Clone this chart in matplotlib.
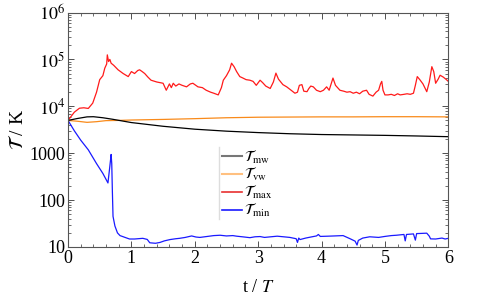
import matplotlib
matplotlib.use("Agg")
import matplotlib.pyplot as plt
from matplotlib.lines import Line2D
from matplotlib.ticker import MultipleLocator, LogLocator, NullFormatter, FixedLocator

plt.rcParams['font.family'] = ['Liberation Serif', 'DejaVu Serif']
plt.rcParams['mathtext.fontset'] = 'stix'

# ---- data ----
t_max = [0, 0.1, 0.18, 0.25, 0.32, 0.39, 0.45, 0.5, 0.55, 0.58, 0.61, 0.62, 0.64, 0.66, 0.68,
         0.72, 0.79, 0.87, 0.95, 1.0, 1.05, 1.1, 1.13, 1.17, 1.21, 1.26, 1.31, 1.4, 1.5, 1.55,
         1.6, 1.63, 1.66, 1.7, 1.75, 1.8, 1.87, 1.93, 1.97, 2.05, 2.12, 2.18, 2.25, 2.3, 2.37,
         2.42, 2.45, 2.5, 2.55, 2.58, 2.62, 2.66, 2.71, 2.76, 2.81, 2.87, 2.92, 2.97, 3.03, 3.07,
         3.12, 3.19, 3.24, 3.28, 3.32, 3.39, 3.45, 3.52, 3.58, 3.62, 3.65, 3.69, 3.72, 3.77, 3.8,
         3.83, 3.87, 3.92, 3.98, 4.03, 4.08, 4.12, 4.18, 4.22, 4.29, 4.35, 4.4, 4.45, 4.5, 4.55,
         4.6, 4.65, 4.71, 4.75, 4.81, 4.86, 4.9, 4.93, 4.95, 4.97, 5.0, 5.05, 5.1, 5.15, 5.2,
         5.24, 5.3, 5.35, 5.4, 5.45, 5.48, 5.51, 5.55, 5.6, 5.66, 5.7, 5.74, 5.77, 5.8, 5.84,
         5.87, 5.92, 5.96, 6.0]
T_max = [5000, 7500, 9100, 9300, 9000, 11700, 20000, 37000, 45000, 65000, 80000, 125000, 90000,
         100000, 83000, 75000, 60000, 50000, 43000, 55000, 50000, 58000, 60000, 55000, 50000,
         42000, 36000, 33000, 31000, 22000, 30000, 25000, 31000, 27000, 30000, 28000, 26000,
         30000, 31000, 26000, 25000, 22000, 20000, 19000, 17500, 25000, 36000, 45000, 60000,
         83000, 70000, 55000, 43000, 40000, 37000, 36000, 34000, 28000, 36000, 32000, 27000,
         24000, 33000, 51000, 38000, 29000, 26000, 22000, 19000, 20000, 28000, 29000, 21000,
         20500, 24000, 27000, 26000, 22000, 20500, 22000, 26000, 22000, 40000, 28000, 22000,
         21000, 20000, 20500, 19000, 20000, 18500, 21000, 22000, 18000, 16500, 20000, 22000,
         30000, 34000, 22000, 17500, 17500, 18000, 17000, 18500, 17500, 18000, 18500, 18000,
         19000, 28000, 43000, 37000, 30000, 20500, 33000, 70000, 55000, 31000, 38000, 46000,
         42000, 38000, 34000]

t_min = [0, 0.1, 0.2, 0.32, 0.45, 0.55, 0.63, 0.65, 0.67, 0.68, 0.69, 0.7, 0.71, 0.74, 0.78,
         0.82, 0.9, 0.97, 1.05, 1.18, 1.25, 1.29, 1.38, 1.45, 1.52, 1.61, 1.7, 1.76, 1.85, 1.95,
         2.02, 2.08, 2.2, 2.3, 2.4, 2.5, 2.6, 2.66, 2.75, 2.87, 2.95, 3.03, 3.1, 3.2, 3.3, 3.4,
         3.5, 3.6, 3.62, 3.64, 3.66, 3.75, 3.85, 3.92, 3.95, 3.98, 4.1, 4.2, 4.34, 4.45, 4.53,
         4.56, 4.58, 4.65, 4.76, 4.9, 5.0, 5.1, 5.18, 5.3, 5.32, 5.34, 5.45, 5.48, 5.5, 5.66,
         5.7, 5.72, 5.8, 5.9, 5.95, 6.0]
T_min = [5000, 3000, 1900, 1180, 600, 370, 232, 400, 700, 940, 600, 150, 45, 28, 20, 17.5, 16,
         14.8, 14.8, 15.3, 14.5, 12.3, 12.0, 12.5, 13.5, 14.4, 15.0, 15.3, 16, 17.2, 16.3, 16,
         16.8, 17.5, 17.8, 17.2, 17.5, 17, 16.5, 15.8, 16.5, 16.7, 16.0, 16.5, 17.0, 16.5, 16,
         15, 12.5, 15.5, 14.4, 15.5, 16.5, 17.2, 18.5, 16.8, 17.0, 17.2, 17.5, 15, 13.3, 11,
         13.8, 15.5, 16.5, 16, 16.8, 17.5, 17.8, 18.5, 13.5, 18.5, 19, 14, 19.3, 19.7, 17, 14.9,
         14.8, 15.5, 14.8, 15.3]

t_mw = [0, 0.15, 0.3, 0.4, 0.55, 0.7, 1.0, 1.5, 2.0, 2.5, 3.0, 3.5, 4.0, 4.5, 5.0, 5.5, 6.0]
T_mw = [5000, 5500, 5950, 6000, 5700, 5300, 4500, 3750, 3250, 2950, 2750, 2600, 2500, 2450,
        2400, 2330, 2250]

t_vw = [0, 0.15, 0.3, 0.45, 0.6, 0.8, 1.0, 1.5, 2.0, 2.5, 3.0, 3.5, 4.0, 4.5, 5.0, 5.5, 6.0]
T_vw = [5000, 4800, 4550, 4700, 4950, 5000, 5100, 5250, 5450, 5700, 5850, 5900, 5950, 5950,
        6000, 6000, 5950]

labels = [r'$\mathcal{T}_{\rm mw}$', r'$\mathcal{T}_{\rm vw}$',
          r'$\mathcal{T}_{\rm max}$', r'$\mathcal{T}_{\rm min}$']
y_ticks = [10, 100, 1000, 1e4, 1e5, 1e6]
y_ticklabels = ['10', '100', '1000', r'$10^4$', r'$10^5$', r'$10^6$']

# ---- plot ----
fig = plt.figure(figsize=(4.8, 3.0), dpi=100)
ax = fig.add_axes([0.1417, 0.1767, 0.7923, 0.7816])

ax.plot(t_max, T_max, color='#ff1a1a', lw=0.9)
ax.plot(t_vw, T_vw, color='#f98a1a', lw=0.9)
ax.plot(t_mw, T_mw, color='black', lw=0.9)
ax.plot(t_min, T_min, color='#1a1aff', lw=0.9)

ax.set_yscale('log')
ax.set_xlim(0, 6)
ax.set_ylim(10, 1e6)
ax.yaxis.set_major_locator(FixedLocator(y_ticks))
ax.set_yticklabels(y_ticklabels)
ax.yaxis.set_minor_locator(LogLocator(base=10, subs=range(2, 10), numticks=20))
ax.yaxis.set_minor_formatter(NullFormatter())
ax.xaxis.set_major_locator(MultipleLocator(1))
ax.xaxis.set_minor_locator(MultipleLocator(0.2))

ax.tick_params(which='both', direction='in', top=True, right=True, labelsize=13, colors='#333333',
               labelcolor='black')
ax.tick_params(which='major', length=4, width=0.6, pad=2)
ax.tick_params(which='minor', length=2, width=0.5)
for s in ax.spines.values():
    s.set_color('#555555')
    s.set_linewidth(0.8)

ax.set_xlabel(r't / $T$', fontsize=13, labelpad=9)
ax.set_ylabel(r'$\mathcal{T}$ / K', fontsize=14, labelpad=2)

handles = [Line2D([], [], color='#777777', lw=1.5),
           Line2D([], [], color='#ffc080', lw=1.5),
           Line2D([], [], color='#e83030', lw=1.2),
           Line2D([], [], color='#1a1aff', lw=1.2)]
leg = fig.legend(handles, labels, loc='upper left', bbox_to_anchor=(0.462, 0.505),
                 frameon=False, fontsize=11, handlelength=1.3, handletextpad=0.15,
                 labelspacing=0.05, borderaxespad=0, borderpad=0)
fig.add_artist(Line2D([0.456, 0.456], [0.27, 0.51], transform=fig.transFigure,
                      color='#dddddd', lw=1.0))

fig.savefig('out.png', dpi=100)
